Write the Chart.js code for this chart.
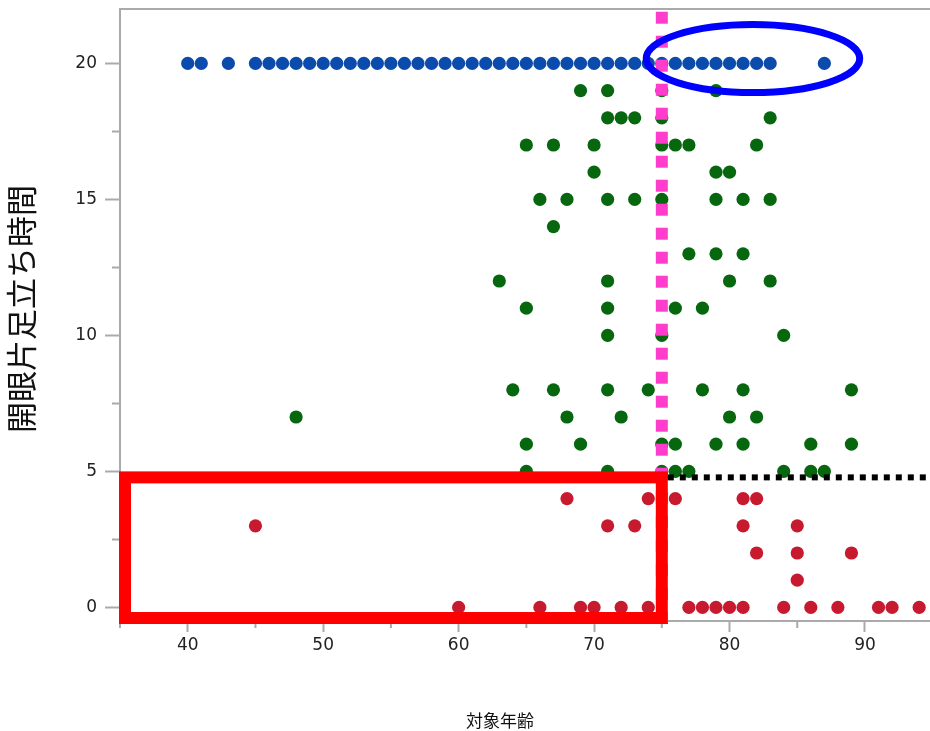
<!DOCTYPE html>
<html><head><meta charset="utf-8">
<script src="https://cdn.jsdelivr.net/npm/chart.js@4/dist/chart.umd.min.js"></script>
<style>html,body{margin:0;padding:0;background:#fff}#wrap{width:930px;height:731px;position:relative}</style>
</head><body><div id="wrap"><canvas id="c" width="930" height="731"></canvas></div>
<script>
// ---- data (age, seconds) ----
const blueAges = [40,41,43,45,46,47,48,49,50,51,52,53,54,55,56,57,58,59,60,61,62,63,64,65,66,67,68,69,70,71,72,73,74,75,76,77,78,79,80,81,82,83,87];
const blueTimes = blueAges.map(() => 20);

const greenAges  = [69,71,75,79, 71,72,73,75,83, 65,67,70,75,76,77,82, 70,79,80, 66,68,71,73,75,79,81,83, 67, 77,79,81, 63,71,80,83, 65,71,76,78, 71,75,84, 64,67,71,74,78,81,89, 48,68,72,80,82, 65,69,75,76,79,81,86,89, 65,71,75,76,77,84,86,87];
const greenTimes = [19,19,19,19, 18,18,18,18,18, 17,17,17,17,17,17,17, 16,16,16, 15,15,15,15,15,15,15,15, 14, 13,13,13, 12,12,12,12, 11,11,11,11, 10,10,10, 8,8,8,8,8,8,8, 7,7,7,7,7, 6,6,6,6,6,6,6,6, 5,5,5,5,5,5,5,5];

const redAges  = [68,74,76,81,82, 45,71,73,81,85, 82,85,89, 85, 60,66,69,70,72,74,77,78,79,80,81,84,86,88,91,92,94];
const redTimes = [4,4,4,4,4, 3,3,3,3,3, 2,2,2, 1, 0,0,0,0,0,0,0,0,0,0,0,0,0,0,0,0,0];

const xMajorTicks = [40,50,60,70,80,90];
const xMinorTicks = [35,45,55,65,75,85];
const yMajorTicks = [0,5,10,15,20];
const yMinorTicks = [2.5,7.5,12.5,17.5];

const xTitle = '対象年齢';
const yTitle = '開眼片足立ち時間';

// annotation values (data units)
const ageCut = 75;
const timeCut = 4.78;
const boxRange = [35.37, -0.39, 75, 4.78];      // xmin, ymin, xmax, ymax
const ellipseSpec = [81.73, 20.18, 7.88, 1.25]; // cx, cy, rx, ry

const pts = (xs, ys) => xs.map((x, i) => ({x, y: ys[i]}));

const overlay = {
  id: 'overlay',
  beforeDatasetsDraw(chart) {
    const {ctx, chartArea: a, scales: {x, y}} = chart;
    ctx.save();
    ctx.strokeStyle = '#aaaaaa';
    ctx.lineWidth = 2;
    ctx.beginPath();
    ctx.moveTo(a.left - 1, a.top); ctx.lineTo(a.right, a.top);
    xMinorTicks.forEach(v => { const p = x.getPixelForValue(v); ctx.moveTo(p, a.bottom); ctx.lineTo(p, a.bottom + 7); });
    yMinorTicks.forEach(v => { const p = y.getPixelForValue(v); ctx.moveTo(a.left, p); ctx.lineTo(a.left - 8, p); });
    ctx.stroke();
    ctx.restore();
  },
  afterDatasetsDraw(chart) {
    const {ctx, chartArea: a, scales: {x, y}} = chart;
    ctx.save();
    // pink dotted vertical
    const px = x.getPixelForValue(ageCut);
    ctx.strokeStyle = '#ff3dcc';
    ctx.lineWidth = 12;
    ctx.setLineDash([12, 12]);
    ctx.beginPath();
    ctx.moveTo(px, y.getPixelForValue(21.9));
    ctx.lineTo(px, y.getPixelForValue(-0.92));
    ctx.stroke();
    // red box
    ctx.setLineDash([]);
    ctx.strokeStyle = '#ff0000';
    ctx.lineWidth = 12;
    const bx0 = x.getPixelForValue(boxRange[0]), by0 = y.getPixelForValue(boxRange[1]);
    const bx1 = x.getPixelForValue(boxRange[2]), by1 = y.getPixelForValue(boxRange[3]);
    ctx.strokeRect(bx0, by1, bx1 - bx0, by0 - by1);
    // black dotted horizontal
    ctx.strokeStyle = '#000000';
    ctx.lineWidth = 6;
    ctx.setLineDash([6, 6]);
    const hy = y.getPixelForValue(timeCut);
    ctx.beginPath();
    ctx.moveTo(bx1 + 6, hy);
    ctx.lineTo(a.right, hy);
    ctx.stroke();
    // blue ellipse
    ctx.setLineDash([]);
    ctx.strokeStyle = '#0000ff';
    ctx.lineWidth = 7;
    const ecx = x.getPixelForValue(ellipseSpec[0]), ecy = y.getPixelForValue(ellipseSpec[1]);
    const erx = x.getPixelForValue(ellipseSpec[0] + ellipseSpec[2]) - ecx;
    const ery = ecy - y.getPixelForValue(ellipseSpec[1] + ellipseSpec[3]);
    ctx.beginPath();
    ctx.ellipse(ecx, ecy, erx, ery, 0, 0, Math.PI * 2);
    ctx.stroke();
    // titles
    ctx.fillStyle = '#111';
    ctx.textAlign = 'center';
    ctx.textBaseline = 'middle';
    ctx.font = '17px "Noto Sans CJK JP"';
    ctx.fillText(xTitle, 500, 721);
    ctx.save();
    ctx.translate(21, 309);
    ctx.rotate(-Math.PI / 2);
    ctx.font = '31px "Noto Sans CJK JP"';
    ctx.fillText(yTitle, 0, 0);
    ctx.restore();
    ctx.restore();
  }
};

const tickFont = {family: '"DejaVu Sans", Verdana, sans-serif', size: 17};
const noPad = s => { s.paddingLeft = 0; s.paddingRight = 0; s.paddingTop = 0; s.paddingBottom = 0; };

new Chart(document.getElementById('c'), {
  type: 'scatter',
  data: {
    datasets: [
      {data: pts(blueAges, blueTimes), backgroundColor: '#0a4bab'},
      {data: pts(greenAges, greenTimes), backgroundColor: '#06670f'},
      {data: pts(redAges, redTimes), backgroundColor: '#c81a2e'}
    ]
  },
  options: {
    responsive: false, animation: false, devicePixelRatio: 1,
    layout: {autoPadding: false, padding: {left: 0, right: 0, top: 9, bottom: 0}},
    elements: {point: {radius: 6.6, borderWidth: 0, hoverRadius: 6.6}},
    plugins: {legend: {display: false}, tooltip: {enabled: false}},
    scales: {
      x: {
        type: 'linear', min: 35, max: 94.8,
        afterBuildTicks: s => { s.ticks = xMajorTicks.map(v => ({value: v})); },
        afterFit: s => { s.height = 110; noPad(s); },
        grid: {drawOnChartArea: false, tickLength: 11, tickColor: '#aaaaaa', tickWidth: 2},
        border: {color: '#aaaaaa', width: 2},
        ticks: {font: tickFont, color: '#222', padding: 3, maxRotation: 0, autoSkip: false}
      },
      y: {
        type: 'linear', min: -0.5, max: 22,
        afterBuildTicks: s => { s.ticks = yMajorTicks.map(v => ({value: v})); },
        afterFit: s => { s.width = 120; noPad(s); },
        grid: {drawOnChartArea: false, tickLength: 15, tickColor: '#aaaaaa', tickWidth: 2},
        border: {color: '#aaaaaa', width: 2},
        ticks: {font: tickFont, color: '#222', padding: 8, autoSkip: false}
      }
    }
  },
  plugins: [overlay]
});
</script>
</body></html>
